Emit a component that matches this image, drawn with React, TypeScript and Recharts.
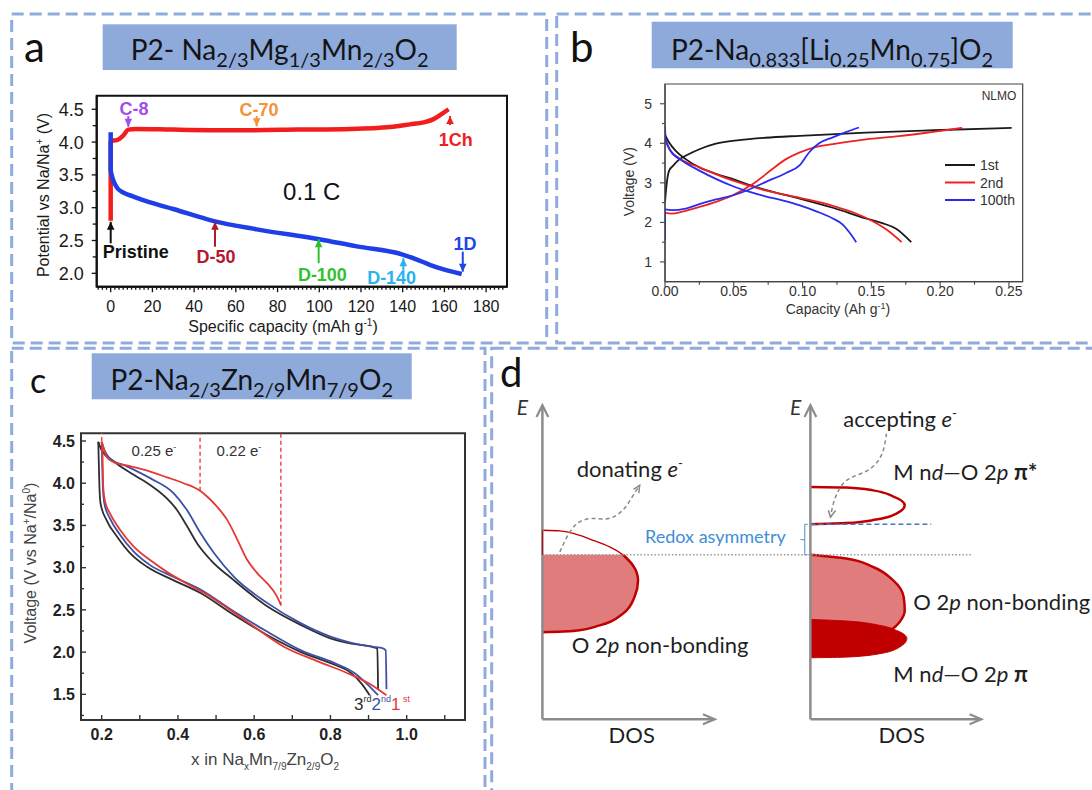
import React from 'react';
import { LineChart, Line, XAxis, YAxis, ReferenceArea, ReferenceLine, ReferenceDot, ComposedChart, Area } from 'recharts';

type P = [number, number];
const xy = (a: P[]) => a.map(([x, y]) => ({ x, y }));
const de = (a: P[]) => a.map(([dos, e]) => ({ dos, e }));
const range = (a: number, b: number, s: number) =>
  Array.from({ length: Math.round((b - a) / s) + 1 }, (_, i) => +(a + i * s).toFixed(6));

const SANS = '"Liberation Sans", Arial, Helvetica, sans-serif';
const CAL = 'Lato, "Open Sans", "Noto Sans", sans-serif';

// ---------------- Panel a data ----------------
const aXLabels = [0, 20, 40, 60, 80, 100, 120, 140, 160, 180];
const aYLabels = [2.0, 2.5, 3.0, 3.5, 4.0, 4.5];
const aChargeRise: P[] = [[0, 2.8], [0, 4.02]];
const aCharge: P[] = [[0, 4.02], [3, 4.03], [6, 4.1], [8.5, 4.19], [12, 4.2], [30, 4.19], [60, 4.18], [90, 4.19], [115, 4.2], [134, 4.23], [143.5, 4.27], [150, 4.3], [154.8, 4.35], [158.8, 4.43], [162, 4.5]];
const aDischargeDrop: P[] = [[0, 4.15], [0, 3.56]];
const aDischarge: P[] = [[0, 3.56], [1, 3.44], [2.9, 3.31], [6.1, 3.23], [10.9, 3.17], [18.9, 3.08], [30, 2.98], [49, 2.8], [70, 2.67], [100, 2.52], [118, 2.41], [139.6, 2.29], [146.8, 2.21], [153, 2.13], [159.6, 2.06], [168.3, 1.99]];
const aMarkNames = ['C-8', 'C-70', '1Ch', 'Pristine', 'D-50', 'D-100', 'D-140', '1D'];
const aMarkArrowX = [8.45, 70.0, 162.7, 0, 50.0, 99.7, 140.3, 168.8];
const aMarkTail = [4.397, 4.397, 4.26, 2.457, 2.405, 2.153, 2.025, 2.33];
const aMarkTip = [4.234, 4.24, 4.397, 2.786, 2.786, 2.52, 2.23, 2.025];
const aMarkTextX = [11.2, 71.1, 165.4, 12.0, 50.5, 101.5, 134.7, 169.9];
const aMarkTextY = [4.515, 4.49, 4.04, 2.329, 2.253, 1.985, 1.933, 2.457];
const aRateLabel = '0.1 C';
const aRateX = 96.4;
const aRateY = 3.244;

// ---------------- Panel b data ----------------
const bXLabels = [0, 0.05, 0.1, 0.15, 0.2, 0.25];
const bYLabels = [1, 2, 3, 4, 5];
const bCycleNames = ['1st', '2nd', '100th'];
const b1stCharge: P[] = [[0, 2.52], [0.0012, 2.97], [0.003, 3.31], [0.0058, 3.43], [0.01, 3.58], [0.0175, 3.73], [0.025, 3.85], [0.037, 3.99], [0.054, 4.08], [0.073, 4.14], [0.098, 4.19], [0.146, 4.27], [0.195, 4.33], [0.252, 4.39]];
const b1stDischarge: P[] = [[0, 4.22], [0.003, 4.02], [0.0078, 3.81], [0.015, 3.6], [0.025, 3.39], [0.037, 3.23], [0.049, 3.1], [0.061, 2.95], [0.073, 2.82], [0.098, 2.6], [0.122, 2.37], [0.146, 2.1], [0.158, 1.98], [0.168, 1.84], [0.179, 1.5]];
const b2ndCharge: P[] = [[0, 2.24], [0.005, 2.22], [0.0126, 2.27], [0.025, 2.39], [0.037, 2.52], [0.049, 2.68], [0.056, 2.81], [0.066, 3.02], [0.078, 3.35], [0.088, 3.6], [0.098, 3.77], [0.11, 3.91], [0.122, 3.98], [0.146, 4.1], [0.17, 4.18], [0.195, 4.29], [0.216, 4.39]];
const b2ndDischarge: P[] = [[0, 4.14], [0.004, 3.81], [0.01, 3.63], [0.025, 3.39], [0.049, 3.06], [0.073, 2.81], [0.098, 2.62], [0.122, 2.42], [0.137, 2.25], [0.151, 2.03], [0.161, 1.82], [0.172, 1.5]];
const b100thRise: P[] = [[0, 1.56], [0, 2.33]];
const b100thCharge: P[] = [[0, 2.33], [0.005, 2.31], [0.015, 2.35], [0.025, 2.46], [0.037, 2.58], [0.049, 2.68], [0.059, 2.8], [0.073, 3.02], [0.088, 3.25], [0.098, 3.45], [0.105, 3.78], [0.112, 4.0], [0.122, 4.15], [0.132, 4.29], [0.141, 4.4]];
const b100thDischarge: P[] = [[0, 4.43], [0.0005, 4.1], [0.004, 3.81], [0.0126, 3.56], [0.025, 3.31], [0.037, 3.1], [0.049, 2.92], [0.061, 2.78], [0.073, 2.66], [0.086, 2.55], [0.098, 2.43], [0.11, 2.28], [0.122, 2.1], [0.129, 1.95], [0.134, 1.75], [0.139, 1.5]];
const bTag = 'NLMO';

// ---------------- Panel c data ----------------
const cXLabels = [0.2, 0.4, 0.6, 0.8, 1.0];
const cYLabels = [1.5, 2.0, 2.5, 3.0, 3.5, 4.0, 4.5];
const c1stCharge: P[] = [[0.2, 4.49], [0.204, 4.43], [0.213, 4.31], [0.231, 4.25], [0.266, 4.21], [0.31, 4.16], [0.371, 4.07], [0.415, 4.0], [0.458, 3.91], [0.477, 3.84], [0.503, 3.72], [0.53, 3.56], [0.556, 3.33], [0.582, 3.09], [0.609, 2.93], [0.635, 2.81], [0.657, 2.68], [0.67, 2.56]];
const c1stDischarge: P[] = [[0.2, 4.49], [0.202, 4.35], [0.204, 3.96], [0.209, 3.78], [0.222, 3.64], [0.248, 3.45], [0.284, 3.25], [0.327, 3.09], [0.371, 2.95], [0.424, 2.81], [0.477, 2.68], [0.53, 2.52], [0.6, 2.3], [0.679, 2.06], [0.767, 1.89], [0.855, 1.73], [0.908, 1.61], [0.934, 1.53], [0.947, 1.49]];
const c2ndCharge: P[] = [[0.2, 4.49], [0.204, 4.43], [0.222, 4.29], [0.266, 4.2], [0.327, 4.06], [0.389, 3.88], [0.424, 3.68], [0.459, 3.41], [0.495, 3.17], [0.547, 2.89], [0.635, 2.58], [0.723, 2.34], [0.802, 2.18], [0.855, 2.11], [0.899, 2.07], [0.934, 2.05], [0.945, 2.02], [0.947, 1.56]];
const c2ndDischarge: P[] = [[0.2, 4.49], [0.203, 3.96], [0.207, 3.76], [0.222, 3.58], [0.248, 3.39], [0.284, 3.19], [0.327, 3.03], [0.389, 2.89], [0.459, 2.74], [0.547, 2.48], [0.635, 2.24], [0.723, 2.02], [0.811, 1.87], [0.864, 1.75], [0.899, 1.61], [0.925, 1.49]];
const c3rdCharge: P[] = [[0.191, 4.49], [0.2, 4.39], [0.231, 4.26], [0.284, 4.1], [0.327, 3.98], [0.371, 3.82], [0.398, 3.68], [0.424, 3.49], [0.45, 3.29], [0.486, 3.09], [0.547, 2.85], [0.635, 2.54], [0.723, 2.32], [0.802, 2.16], [0.855, 2.1], [0.912, 2.06], [0.923, 2.04], [0.925, 1.56]];
const c3rdDischarge: P[] = [[0.191, 4.49], [0.194, 3.96], [0.197, 3.76], [0.213, 3.56], [0.24, 3.37], [0.275, 3.17], [0.319, 3.01], [0.389, 2.85], [0.459, 2.7], [0.547, 2.44], [0.635, 2.2], [0.723, 2.0], [0.811, 1.85], [0.855, 1.75], [0.881, 1.63], [0.903, 1.49]];
const cDashX = [0.2, 0.458, 0.67];
const cDashFrom = [4.5, 3.91, 2.55];
const cElectronText = ['0.25', '0.22'];
const cElectronX = [0.337, 0.56];
const cElectronY = 4.385;
const cCycleLabelX = 0.862;
const cCycleLabelY = 1.314;

// ---------------- Panel d data (schematic DOS units) ----------------
const dAxisLeftE: P[] = [[0, 0], [0, 100]];
const dAxisLeftDos: P[] = [[0, 0], [64.3, 0]];
const dAxisRightE: P[] = [[100, 0], [100, 100]];
const dAxisRightDos: P[] = [[100, 0], [163.8, 0]];
const dHeadLeftE: P[] = [[-2.2, 96.3], [0, 100], [2.2, 96.3]];
const dHeadLeftDos: P[] = [[59.9, 1.6], [64.3, 0], [59.9, -1.6]];
const dHeadRightE: P[] = [[97.8, 96.3], [100, 100], [102.2, 96.3]];
const dHeadRightDos: P[] = [[159.4, 1.6], [163.8, 0], [159.4, -1.6]];
const dLeftBandFilled: P[] = [[0, 27.7], [11.4, 28.1], [21.4, 29.9], [30.1, 33.7], [34.4, 39.0], [35.7, 44.3], [33.8, 49.0], [30.1, 52.4]];
const dLeftBandEmpty: P[] = [[30.1, 52.4], [25.1, 54.9], [18.9, 57.0], [12.7, 58.9], [6.5, 60.0], [0, 60.2]];
const dLeftBandEdge: P[] = [[0, 52.4], [0, 60.2]];
const dPiStar: P[] = [[100, 62.1], [113.4, 62.5], [124.6, 63.6], [132.1, 65.5], [135.2, 68.2], [130.8, 71.0], [123.4, 72.9], [113.4, 73.8], [100, 74.0]];
const dO2pRight: P[] = [[128, 27.5], [130.8, 28.9], [133.3, 31.0], [135.2, 34.7], [134.8, 39.0], [130.8, 44.3], [123.4, 48.5], [113.4, 51.2], [100, 52.4]];
const dPiBond: P[] = [[100, 19.6], [113.4, 19.8], [125.9, 20.9], [133.3, 23.0], [136.0, 25.7], [132.7, 28.1], [125.9, 29.9], [113.4, 31.3], [100, 31.8]];
const dFermi: P[] = [[0, 52.4], [160.2, 52.4]];
const dAcceptLevel: P[] = [[100, 62.1], [145.1, 62.1]];
const dBracket: P[] = [[99.0, 62.1], [97.9, 62.1], [97.9, 52.4], [99.0, 52.4]];
const dBracketTick: P[] = [[97.9, 57.2], [96.3, 57.2]];
const dCurlLeft: P[] = [[6.5, 53.3], [10.2, 60.2], [13.9, 63.4], [18.9, 64.2], [23.9, 63.4], [28.2, 65.0], [31.3, 67.6], [33.8, 71.3], [36.3, 74.5]];
const dCurlLeftHead: P[] = [[34.0, 73.2], [36.3, 74.5], [36.0, 72.0]];
const dCurlRight: P[] = [[128.4, 91.0], [127.7, 86.7], [125.9, 82.5], [122.1, 79.3], [117.2, 77.7], [112.8, 76.1], [110.3, 72.9], [108.4, 68.7], [107.5, 64.4]];
const dCurlRightHead: P[] = [[109.4, 66.5], [107.5, 64.4], [106.7, 66.6]];

// ---------------- styles ----------------
const aColors = { charge: '#f21d1d', discharge: '#1f3fe6' };
const aMarkColor: Record<string, string> = {
  'C-8': '#a24ded', 'C-70': '#f39237', '1Ch': '#ee2020', Pristine: '#111111',
  'D-50': '#b3192b', 'D-100': '#2ec22e', 'D-140': '#27b3ec', '1D': '#2145e6',
};
const bColors = ['#1a1a1a', '#ee2222', '#2b2bef'];
const cColors = { first: '#e53935', second: '#3e4fa8', third: '#2e2e2e' };
const BAND_RED = '#c00000';
const BAND_FILL = '#e07c7c';
const AXIS_GRAY = '#8c8c8c';

const near = (arr: number[], v: number) => arr.some((m) => Math.abs(m - v) < 1e-6);

function mkBottomTick(cfg: any) {
  return (props: any) => {
    const { x, y, payload } = props;
    const v = Number(payload.value);
    const isLabel = near(cfg.labels, v);
    const len = isLabel ? cfg.majorLen : cfg.minorLen;
    const d = cfg.inward ? -1 : 1;
    return (
      <g>
        <line x1={x} y1={y} x2={x} y2={y + d * len} stroke={cfg.stroke} strokeWidth={cfg.sw} />
        {isLabel ? (
          <text x={x} y={y + cfg.offset} textAnchor="middle" fontFamily={SANS} fontSize={cfg.fontSize}
            fontWeight={cfg.bold ? 700 : 400} fill={cfg.color}>{v.toFixed(cfg.digits)}</text>
        ) : null}
      </g>
    );
  };
}
function mkLeftTick(cfg: any) {
  return (props: any) => {
    const { x, y, payload } = props;
    const v = Number(payload.value);
    const isLabel = near(cfg.labels, v);
    const len = isLabel ? cfg.majorLen : cfg.minorLen;
    const d = cfg.inward ? -1 : 1;
    return (
      <g>
        <line x1={x} y1={y} x2={x - d * len} y2={y} stroke={cfg.stroke} strokeWidth={cfg.sw} />
        {isLabel ? (
          <text x={x - cfg.offset} y={y} dy="0.36em" textAnchor="end" fontFamily={SANS} fontSize={cfg.fontSize}
            fontWeight={cfg.bold ? 700 : 400} fill={cfg.color}>{v.toFixed(cfg.digits)}</text>
        ) : null}
      </g>
    );
  };
}

const lineCommon = { dot: false, activeDot: false, isAnimationActive: false, legendType: 'none' as const };

// ---------------- Panel a ----------------
function PanelA() {
  const pl = 96.7, pt = 95.7, pr = 507, pb = 286.7;
  const L = 40, T = 88, xh = 30;
  const W = pr + 8 - L, H = pb + xh - T;
  const xDom: P = [-6.7, 190];
  const yDom: P = [1.796, 4.707];
  const xt = mkBottomTick({ labels: aXLabels, majorLen: 5.5, minorLen: 3, stroke: '#111', sw: 1.3, offset: 25, fontSize: 16, color: '#1a1a1a', digits: 0 });
  const yt = mkLeftTick({ labels: aYLabels, majorLen: 5, minorLen: 4, stroke: '#111', sw: 1.3, offset: 13, fontSize: 18, color: '#1a1a1a', digits: 1 });
  const marks: any[] = [];
  aMarkNames.forEach((name, i) => {
    const color = aMarkColor[name];
    const up = aMarkTip[i] > aMarkTail[i];
    marks.push(
      <ReferenceLine key={'s' + i} segment={[{ x: aMarkArrowX[i], y: aMarkTail[i] }, { x: aMarkArrowX[i], y: aMarkTip[i] }]}
        stroke={color} strokeWidth={2} />
    );
    marks.push(
      <ReferenceDot key={'h' + i} x={aMarkArrowX[i]} y={aMarkTip[i]} r={3}
        shape={(p: any) => (
          <path d={up
            ? `M${p.cx},${p.cy} L${p.cx - 3.8},${p.cy + 8} L${p.cx + 3.8},${p.cy + 8} Z`
            : `M${p.cx},${p.cy} L${p.cx - 3.8},${p.cy - 8} L${p.cx + 3.8},${p.cy - 8} Z`} fill={color} />
        )} />
    );
    marks.push(
      <ReferenceDot key={'t' + i} x={aMarkTextX[i]} y={aMarkTextY[i]} r={3}
        shape={(p: any) => (
          <text x={p.cx} y={p.cy} dy="0.36em" textAnchor="middle" fontFamily={SANS} fontWeight={700} fontSize={18} fill={color}>{name}</text>
        )} />
    );
  });
  return (
    <div style={{ position: 'absolute', left: L, top: T, width: W, height: H }}>
      <LineChart width={W} height={H} margin={{ top: pt - T, right: 8, bottom: 0, left: 0 }}>
        <XAxis type="number" dataKey="x" domain={xDom} allowDataOverflow ticks={range(-6, 188, 2)} interval={0}
          tick={xt} tickLine={false} tickSize={0} tickMargin={0} height={xh} axisLine={{ stroke: '#111', strokeWidth: 2 }} />
        <YAxis type="number" dataKey="y" domain={yDom} allowDataOverflow ticks={range(2, 4.5, 0.25)} interval={0}
          tick={yt} tickLine={false} tickSize={0} tickMargin={0} width={pl - L} axisLine={{ stroke: '#111', strokeWidth: 2 }} />
        <ReferenceArea x1={xDom[0]} x2={xDom[1]} y1={yDom[0]} y2={yDom[1]} fill="none" stroke="#111" strokeWidth={2} ifOverflow="visible" />
        <Line data={xy(aChargeRise)} dataKey="y" type="linear" stroke={aColors.charge} strokeWidth={4.5} {...lineCommon} />
        <Line data={xy(aCharge)} dataKey="y" type="monotone" stroke={aColors.charge} strokeWidth={4.5} {...lineCommon} />
        <Line data={xy(aDischargeDrop)} dataKey="y" type="linear" stroke={aColors.discharge} strokeWidth={4.5} {...lineCommon} />
        <Line data={xy(aDischarge)} dataKey="y" type="monotone" stroke={aColors.discharge} strokeWidth={4.5} {...lineCommon} />
        {marks}
        <ReferenceDot x={aRateX} y={aRateY} r={3}
          shape={(p: any) => (
            <text x={p.cx} y={p.cy} dy="0.36em" textAnchor="middle" fontFamily={SANS} fontSize={24} fill="#111">{aRateLabel}</text>
          )} />
      </LineChart>
    </div>
  );
}

// ---------------- Panel b ----------------
function PanelB() {
  const pl = 665, pt = 84, pr = 1022.7, pb = 281.7;
  const L = 630, T = 76, xh = 24;
  const W = pr + 8 - L, H = pb + xh - T;
  const xDom: P = [0, 0.26];
  const yDom: P = [0.5, 5.5];
  const xt = mkBottomTick({ labels: bXLabels, majorLen: 5, minorLen: 3, stroke: '#444', sw: 1.1, offset: 14.5, fontSize: 14, color: '#333', digits: 2 });
  const yt = mkLeftTick({ labels: bYLabels, majorLen: 5, minorLen: 3, stroke: '#444', sw: 1.1, offset: 13, fontSize: 14, color: '#333', digits: 0 });
  const series: [P[], number, string][] = [
    [b1stCharge, 0, 'monotone'], [b1stDischarge, 0, 'monotone'],
    [b2ndCharge, 1, 'monotone'], [b2ndDischarge, 1, 'monotone'],
    [b100thRise, 2, 'linear'], [b100thCharge, 2, 'monotone'], [b100thDischarge, 2, 'monotone'],
  ];
  return (
    <div style={{ position: 'absolute', left: L, top: T, width: W, height: H }}>
      <LineChart width={W} height={H} margin={{ top: pt - T, right: 8, bottom: 0, left: 0 }}>
        <XAxis type="number" dataKey="x" domain={xDom} allowDataOverflow ticks={range(0, 0.25, 0.025)} interval={0}
          tick={xt} tickLine={false} tickSize={0} tickMargin={0} height={xh} axisLine={{ stroke: '#444', strokeWidth: 1.2 }} />
        <YAxis type="number" dataKey="y" domain={yDom} allowDataOverflow ticks={range(1, 5, 0.5)} interval={0}
          tick={yt} tickLine={false} tickSize={0} tickMargin={0} width={pl - L} axisLine={{ stroke: '#444', strokeWidth: 1.2 }} />
        <ReferenceArea x1={xDom[0]} x2={xDom[1]} y1={yDom[0]} y2={yDom[1]} fill="none" stroke="#444" strokeWidth={1.2} ifOverflow="visible" />
        {series.map(([d, ci, t], i) => (
          <Line key={i} data={xy(d)} dataKey="y" type={t as any} stroke={bColors[ci]} strokeWidth={1.8} {...lineCommon} />
        ))}
      </LineChart>
    </div>
  );
}

// ---------------- Panel c ----------------
function PanelC() {
  const pl = 81, pt = 433.3, pr = 465, pb = 720;
  const L = 40, T = 425, xh = 28;
  const W = pr + 8 - L, H = pb + xh - T;
  const xDom: P = [0.1457, 1.153];
  const yDom: P = [1.196, 4.591];
  const xt = mkBottomTick({ labels: cXLabels, majorLen: 5, minorLen: 5, inward: true, stroke: '#333', sw: 1.4, offset: 20, fontSize: 16, bold: true, color: '#222', digits: 1 });
  const yt = mkLeftTick({ labels: cYLabels, majorLen: 5, minorLen: 3, inward: true, stroke: '#333', sw: 1.4, offset: 6, fontSize: 16, bold: true, color: '#222', digits: 1 });
  const series: [P[], string][] = [
    [c3rdCharge, cColors.third], [c3rdDischarge, cColors.third],
    [c2ndCharge, cColors.second], [c2ndDischarge, cColors.second],
    [c1stCharge, cColors.first], [c1stDischarge, cColors.first],
  ];
  return (
    <div style={{ position: 'absolute', left: L, top: T, width: W, height: H }}>
      <LineChart width={W} height={H} margin={{ top: pt - T, right: 8, bottom: 0, left: 0 }}>
        <XAxis type="number" dataKey="x" domain={xDom} allowDataOverflow ticks={range(0.2, 1.1, 0.1)} interval={0}
          tick={xt} tickLine={false} tickSize={0} tickMargin={0} height={xh} axisLine={{ stroke: '#333', strokeWidth: 2 }} />
        <YAxis type="number" dataKey="y" domain={yDom} allowDataOverflow ticks={range(1.25, 4.5, 0.25)} interval={0}
          tick={yt} tickLine={false} tickSize={0} tickMargin={0} width={pl - L} axisLine={{ stroke: '#333', strokeWidth: 2 }} />
        <ReferenceArea x1={xDom[0]} x2={xDom[1]} y1={yDom[0]} y2={yDom[1]} fill="none" stroke="#333" strokeWidth={2} ifOverflow="visible" />
        {cDashX.map((x, i) => (
          <ReferenceLine key={'d' + i} segment={[{ x, y: cDashFrom[i] }, { x, y: yDom[1] }]} stroke="#f03c3c" strokeWidth={1.4} strokeDasharray="4 3" />
        ))}
        {series.map(([d, c], i) => (
          <Line key={i} data={xy(d)} dataKey="y" type="monotone" stroke={c} strokeWidth={1.8} {...lineCommon} />
        ))}
        {cElectronText.map((t, i) => (
          <ReferenceDot key={'e' + i} x={cElectronX[i]} y={cElectronY} r={3}
            shape={(p: any) => (
              <text x={p.cx} y={p.cy} dy="0.36em" textAnchor="middle" fontFamily={SANS} fontSize={15} fill="#333">
                {t} e<tspan dy={-6} fontSize={9}>-</tspan>
              </text>
            )} />
        ))}
        <ReferenceDot x={cCycleLabelX} y={cCycleLabelY} r={3}
          shape={(p: any) => (
            <text x={p.cx} y={p.cy} fontFamily={SANS} fontSize={17}>
              <tspan fill={cColors.third}>3</tspan>
              <tspan dy={-8} fontSize={9} fill={cColors.third}>rd</tspan>
              <tspan dy={8} fill={cColors.second}>2</tspan>
              <tspan dy={-8} fontSize={9} fill={cColors.second}>nd</tspan>
              <tspan dy={8} fill={cColors.first}>1</tspan>
              <tspan dy={-8} fontSize={9} fill={cColors.first}> st</tspan>
            </text>
          )} />
      </LineChart>
    </div>
  );
}

// ---------------- Panel d ----------------
function PanelD() {
  const L = 529.3, T = 398.7, W = 509.2, H = 336;
  const gl = (d: P[], stroke: string, sw: number, extra: any = {}) => (
    <Line data={de(d)} dataKey="dos" type="linear" stroke={stroke} strokeWidth={sw} {...lineCommon} {...extra} />
  );
  return (
    <div style={{ position: 'absolute', left: L, top: T, width: W, height: H }}>
      <ComposedChart layout="vertical" width={W} height={H} margin={{ top: 0, right: 0, bottom: 0, left: 0 }}>
        <XAxis type="number" domain={[-5, 185]} hide allowDataOverflow />
        <YAxis type="number" dataKey="e" domain={[-5, 102]} hide allowDataOverflow reversed />
        <Area data={de(dLeftBandFilled)} dataKey="dos" type="monotone" baseValue={0} fill={BAND_FILL} fillOpacity={1}
          stroke={BAND_RED} strokeWidth={2.5} isAnimationActive={false} dot={false} activeDot={false} legendType="none" />
        <Area data={de(dO2pRight)} dataKey="dos" type="monotone" baseValue={100} fill={BAND_FILL} fillOpacity={1}
          stroke={BAND_RED} strokeWidth={2.5} isAnimationActive={false} dot={false} activeDot={false} legendType="none" />
        <Area data={de(dPiBond)} dataKey="dos" type="monotone" baseValue={100} fill={BAND_RED} fillOpacity={1}
          stroke={BAND_RED} strokeWidth={1} isAnimationActive={false} dot={false} activeDot={false} legendType="none" />
        <Area data={de(dPiStar)} dataKey="dos" type="monotone" baseValue={100} fill="none"
          stroke={BAND_RED} strokeWidth={2.5} isAnimationActive={false} dot={false} activeDot={false} legendType="none" />
        <Line data={de(dLeftBandEmpty)} dataKey="dos" type="monotone" stroke={BAND_RED} strokeWidth={1.4} {...lineCommon} />
        {gl(dFermi, '#9a9a9a', 1.5, { strokeDasharray: '1.5 2' })}
        {gl(dAcceptLevel, '#4a78c8', 1.5, { strokeDasharray: '5 3' })}
        {gl(dBracket, '#4a90d0', 1)}
        {gl(dBracketTick, '#4a90d0', 1)}
        {gl(dAxisLeftE, AXIS_GRAY, 2.5)}
        {gl(dAxisLeftDos, AXIS_GRAY, 2.5)}
        {gl(dAxisRightE, AXIS_GRAY, 2.5)}
        {gl(dAxisRightDos, AXIS_GRAY, 2.5)}
        {gl(dLeftBandEdge, BAND_RED, 1)}
        {gl(dHeadLeftE, AXIS_GRAY, 2.2)}
        {gl(dHeadLeftDos, AXIS_GRAY, 2.2)}
        {gl(dHeadRightE, AXIS_GRAY, 2.2)}
        {gl(dHeadRightDos, AXIS_GRAY, 2.2)}
        <Line data={de(dCurlLeft)} dataKey="dos" type="basis" stroke="#8a8a8a" strokeWidth={1.5} strokeDasharray="4 3" {...lineCommon} />
        {gl(dCurlLeftHead, '#8a8a8a', 1.5)}
        <Line data={de(dCurlRight)} dataKey="dos" type="basis" stroke="#8a8a8a" strokeWidth={1.5} strokeDasharray="4 3" {...lineCommon} />
        {gl(dCurlRightHead, '#8a8a8a', 1.5)}
      </ComposedChart>
    </div>
  );
}

// ---------------- Text / frames overlay ----------------
type Part = [string, number];
const titleA: Part[] = [['P2- Na', 0], ['2/3', 1], ['Mg', 0], ['1/3', 1], ['Mn', 0], ['2/3', 1], ['O', 0], ['2', 1]];
const titleB: Part[] = [['P2-Na', 0], ['0.833', 1], ['[Li', 0], ['0.25', 1], ['Mn', 0], ['0.75', 1], [']O', 0], ['2', 1]];
const titleC: Part[] = [['P2-Na', 0], ['2/3', 1], ['Zn', 0], ['2/9', 1], ['Mn', 0], ['7/9', 1], ['O', 0], ['2', 1]];
const cXTitle: Part[] = [['x in Na', 0], ['x', 1], ['Mn', 0], ['7/9', 1], ['Zn', 0], ['2/9', 1], ['O', 0], ['2', 1]];

function Formula({ x, y, parts, size, subSize, shift, family, fill, anchor = 'middle' }: any) {
  let prev = 0;
  return (
    <text x={x} y={y} textAnchor={anchor} fontFamily={family} fontSize={size} fill={fill}>
      {parts.map(([t, s]: Part, i: number) => {
        const dy = (s - prev) * shift;
        prev = s;
        return <tspan key={i} dy={dy} fontSize={s ? subSize : size}>{t}</tspan>;
      })}
    </text>
  );
}

function Overlay() {
  const border = { fill: 'none', stroke: '#8fabdc', strokeWidth: 3, strokeDasharray: '12 6' };
  const box = '#8eaadb';
  const dt = { fontFamily: CAL, fontSize: 22, fill: '#1f1f1f' };
  return (
    <svg width={1092} height={790} style={{ position: 'absolute', left: 0, top: 0, pointerEvents: 'none' }}>
      <rect x={11.7} y={14} width={535} height={329} {...border} />
      <rect x={556.7} y={14} width={560} height={329} {...border} />
      <rect x={11.7} y={348.3} width={473.3} height={470} {...border} />
      <rect x={491.7} y={348.3} width={620} height={470} {...border} />

      <rect x={102.7} y={24.3} width={354} height={45.7} fill={box} />
      <rect x={651.7} y={21.7} width={361} height={46.6} fill={box} />
      <rect x={91.7} y={353.3} width={320} height={46} fill={box} />
      <Formula x={279.7} y={60} parts={titleA} size={28} subSize={20} shift={7} family={CAL} fill="#141414" />
      <Formula x={832} y={60} parts={titleB} size={28} subSize={20} shift={7} family={CAL} fill="#141414" />
      <Formula x={251.7} y={390} parts={titleC} size={28} subSize={20} shift={7} family={CAL} fill="#141414" />

      <text x={24} y={61.7} fontFamily={CAL} fontSize={42} fill="#111">a</text>
      <text x={570} y={61.7} fontFamily={CAL} fontSize={42} fill="#111">b</text>
      <text x={30} y={393.3} fontFamily={CAL} fontSize={34} fill="#111">c</text>
      <text x={500} y={387} fontFamily={CAL} fontSize={40} fill="#111">d</text>

      {/* panel a axis titles */}
      <text x={43.3} y={195} transform="rotate(-90 43.3 195)" textAnchor="middle" dy="0.36em" fontFamily={SANS} fontSize={16} fill="#1a1a1a">
        Potential vs Na/Na<tspan dy={-6} fontSize={10}>+</tspan><tspan dy={6}> (V)</tspan>
      </text>
      <text x={283} y={331.7} textAnchor="middle" fontFamily={SANS} fontSize={16} fill="#1a1a1a">
        Specific capacity (mAh g<tspan dy={-6} fontSize={10}>-1</tspan><tspan dy={6}>)</tspan>
      </text>

      {/* panel b */}
      <text x={629} y={181.7} transform="rotate(-90 629 181.7)" textAnchor="middle" dy="0.36em" fontFamily={SANS} fontSize={14} fill="#333">Voltage (V)</text>
      <text x={838} y={314} textAnchor="middle" fontFamily={SANS} fontSize={14} fill="#333">
        Capacity (Ah g<tspan dy={-5} fontSize={9}>-1</tspan><tspan dy={5}>)</tspan>
      </text>
      <text x={981.7} y={100} fontFamily={SANS} fontSize={12} fill="#333">{bTag}</text>
      {bCycleNames.map((n, i) => (
        <g key={n}>
          <line x1={945} x2={975} y1={165 + i * 17.5} y2={165 + i * 17.5} stroke={bColors[i]} strokeWidth={2} />
          <text x={980} y={165 + i * 17.5 + 5} fontFamily={SANS} fontSize={14} fill="#333">{n}</text>
        </g>
      ))}

      {/* panel c */}
      <text x={30.5} y={563} transform="rotate(-90 30.5 563)" textAnchor="middle" dy="0.36em" fontFamily={SANS} fontSize={16} fill="#444">
        Voltage (V vs Na<tspan dy={-6} fontSize={10}>+</tspan><tspan dy={6}>/Na</tspan><tspan dy={-6} fontSize={10}>0</tspan><tspan dy={6}>)</tspan>
      </text>
      <Formula x={265} y={765} parts={cXTitle} size={17} subSize={10} shift={5} family={SANS} fill="#444" />

      {/* panel d */}
      <text x={516.7} y={415} fontFamily={CAL} fontSize={21} fontStyle="italic" fill="#333">E</text>
      <text x={790} y={415} fontFamily={CAL} fontSize={21} fontStyle="italic" fill="#333">E</text>
      <text x={576.7} y={476.7} {...dt}>donating <tspan fontStyle="italic">e</tspan><tspan dy={-9} fontSize={13}>-</tspan></text>
      <text x={571.7} y={653.3} {...dt}>O 2<tspan fontStyle="italic">p</tspan> non-bonding</text>
      <text x={631.7} y={743.3} textAnchor="middle" {...dt}>DOS</text>
      <text x={645} y={543.3} fontFamily={CAL} fontSize={18} fill="#3d8ed6">Redox asymmetry</text>
      <text x={843.3} y={426.7} {...dt}>accepting <tspan fontStyle="italic">e</tspan><tspan dy={-9} fontSize={13}>-</tspan></text>
      <text x={893.3} y={480} {...dt}>M n<tspan fontStyle="italic">d</tspan>—O 2<tspan fontStyle="italic">p</tspan> <tspan fontWeight={700}>π*</tspan></text>
      <text x={913.3} y={610} {...dt}>O 2<tspan fontStyle="italic">p</tspan> non-bonding</text>
      <text x={893.3} y={681.7} {...dt}>M n<tspan fontStyle="italic">d</tspan>—O 2<tspan fontStyle="italic">p</tspan> <tspan fontWeight={700}>π</tspan></text>
      <text x={901.7} y={743.3} textAnchor="middle" {...dt}>DOS</text>
    </svg>
  );
}

export default function App() {
  return (
    <div style={{ position: 'absolute', left: 0, top: 0, width: 1092, height: 790, background: '#ffffff', overflow: 'hidden' }}>
      <PanelA />
      <PanelB />
      <PanelC />
      <PanelD />
      <Overlay />
    </div>
  );
}
